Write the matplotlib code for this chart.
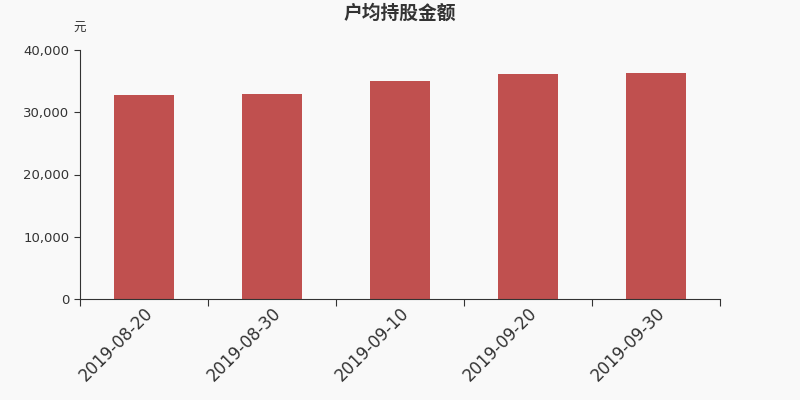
import matplotlib.pyplot as plt
import matplotlib.ticker as mticker

# 户均持股金额 (元)
dates = ['2019-08-20', '2019-08-30', '2019-09-10', '2019-09-20', '2019-09-30']
amounts = [32770, 32880, 35020, 36150, 36300]

plt.rcParams['font.family'] = ['DejaVu Sans', 'Noto Sans CJK SC']

bg = '#f9f9f9'
fig = plt.figure(figsize=(8, 4), dpi=100, facecolor=bg)
ax = fig.add_axes([0.1, 0.2525, 0.8, 0.6225], facecolor=bg)

x = list(range(len(dates)))
ax.bar(x, amounts, width=0.47, color='#c0504f', zorder=2)

ax.set_xlim(-0.5, len(dates) - 0.5)
ax.set_ylim(0, 40000)
ax.yaxis.set_major_locator(mticker.MultipleLocator(10000))
ax.yaxis.set_major_formatter(mticker.FuncFormatter(lambda v, p: '{:,.0f}'.format(v)))

# category boundary ticks, labels under the bar centres
ax.set_xticks([i - 0.5 for i in range(len(dates) + 1)])
ax.set_xticklabels([])
ax.set_xticks(x, minor=True)
ax.set_xticklabels(dates, minor=True, rotation=45, ha='right', rotation_mode='anchor',
                   fontsize=12, color='#333333')
ax.tick_params(axis='x', which='minor', length=0, pad=4)
ax.tick_params(axis='x', which='major', length=5, color='#333333')
ax.tick_params(axis='y', length=4, color='#333333', labelsize=9.5, labelcolor='#333333')

for s in ['top', 'right']:
    ax.spines[s].set_visible(False)
ax.spines['left'].set_color('#333333')
ax.spines['bottom'].set_color('#333333')

fig.text(0.5, 0.966, '户均持股金额', ha='center', va='center', fontsize=13.5,
         fontweight='bold', color='#333333', family='Noto Sans CJK SC')
fig.text(0.1, 0.93, '元', ha='center', va='center', fontsize=9, color='#333333',
         family='Noto Sans CJK SC')

fig.savefig('out.png', dpi=100, facecolor=bg)
